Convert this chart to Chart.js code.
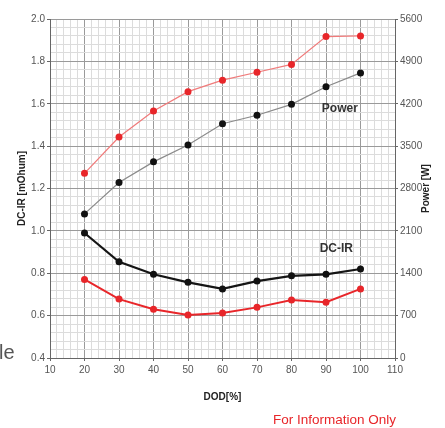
<!DOCTYPE html>
<html>
<head>
<meta charset="utf-8">
<script src="https://cdn.jsdelivr.net/npm/chart.js@4"></script>
<style>
  body { margin: 0; background: #fff; }
  #wrap { position: relative; width: 445px; height: 428px; overflow: hidden; }
  #side { position: absolute; left: -1px; top: 341px; font: 20px "Liberation Sans", Arial, sans-serif; color: #555; }
  #note { position: absolute; left: 273px; top: 412px; font: 13.5px "Liberation Sans", Arial, sans-serif; color: #e8262a; }
</style>
</head>
<body>
<div id="wrap">
  <canvas id="chart" width="445" height="428"></canvas>
  <div id="side">le</div>
  <div id="note">For Information Only</div>
</div>
<script>
const dod = [20, 30, 40, 50, 60, 70, 80, 90, 100];

// DC-IR [mOhum], left axis
const dcirBlack = [0.99, 0.854, 0.795, 0.757, 0.726, 0.763, 0.788, 0.795, 0.82];
const dcirRed = [0.771, 0.678, 0.630, 0.603, 0.612, 0.639, 0.674, 0.663, 0.726];

// Power [W], right axis
const powerBlack = [2380, 2900, 3240, 3520, 3870, 4010, 4190, 4480, 4710];
const powerRed = [3050, 3650, 4080, 4400, 4590, 4720, 4850, 5310, 5320];

const curveLabels = [
    { text: 'Power', x: 94, y: 1.575 },
    { text: 'DC-IR', x: 93, y: 0.915 }
];

const tickFont = { family: '"Liberation Sans", Arial, sans-serif', size: 10 };
const titleFont = { family: '"Liberation Sans", Arial, sans-serif', size: 10, weight: 'bold' };

function points(values) {
    return values.map((v, i) => ({ x: dod[i], y: v }));
}

function isMajor(v, step) {
    let r = v / step;
    return Math.abs(r - Math.round(r)) < 1e-6;
}

const textPlugin = {
    id: 'texts',
    afterDatasetsDraw(chart) {
        const ctx = chart.ctx;
        const xs = chart.scales.x;
        const ys = chart.scales.y;
        ctx.save();
        ctx.fillStyle = '#333';
        ctx.font = 'bold 12px "Liberation Sans", Arial, sans-serif';
        ctx.textAlign = 'center';
        ctx.textBaseline = 'middle';
        curveLabels.forEach(l => {
            ctx.fillText(l.text, xs.getPixelForValue(l.x), ys.getPixelForValue(l.y));
        });

        // right axis title, reading bottom to top
        const area = chart.chartArea;
        ctx.translate(426, (area.top + area.bottom) / 2);
        ctx.rotate(-Math.PI / 2);
        ctx.font = 'bold 10px "Liberation Sans", Arial, sans-serif';
        ctx.fillStyle = '#222';
        ctx.fillText('Power [W]', 0, 0);
        ctx.restore();
    }
};

function series(label, data, axis, color, width, pointColor) {
    return {
        label: label,
        data: points(data),
        yAxisID: axis,
        borderColor: color,
        borderWidth: width,
        pointRadius: 3.5,
        pointBackgroundColor: pointColor,
        pointBorderColor: pointColor,
        pointBorderWidth: 0,
        tension: 0
    };
}

new Chart(document.getElementById('chart'), {
    type: 'line',
    data: {
        datasets: [
            series('Power black', powerBlack, 'y1', '#8a8a8a', 1.2, '#111'),
            series('Power red', powerRed, 'y1', '#f07a7a', 1.2, '#e8262a'),
            series('DC-IR black', dcirBlack, 'y', '#151515', 2.2, '#111'),
            series('DC-IR red', dcirRed, 'y', '#e8262a', 2, '#e8262a')
        ]
    },
    options: {
        responsive: false,
        animation: false,
        layout: { padding: { top: 19 } },
        plugins: {
            legend: { display: false },
            tooltip: { enabled: false }
        },
        scales: {
            x: {
                type: 'linear',
                min: 10,
                max: 110,
                afterFit: s => { s.height = 70; },
                border: { color: '#666', width: 1 },
                grid: {
                    color: c => isMajor(c.tick.value, 10) ? '#9a9a9a' : '#dcdcdc',
                    tickColor: c => isMajor(c.tick.value, 10) ? '#666' : 'rgba(0,0,0,0)',
                    tickLength: 3
                },
                ticks: {
                    stepSize: 2,
                    autoSkip: false,
                    maxTicksLimit: 200,
                    maxRotation: 0,
                    padding: 3,
                    color: '#555',
                    font: tickFont,
                    callback: v => isMajor(v, 10) ? v : ''
                },
                title: {
                    display: true,
                    text: 'DOD[%]',
                    color: '#222',
                    font: titleFont,
                    padding: { top: 0, bottom: 25 }
                }
            },
            y: {
                position: 'left',
                min: 0.4,
                max: 2.0,
                afterFit: s => { s.width = 50; },
                border: { color: '#666', width: 1 },
                grid: {
                    color: c => isMajor(c.tick.value, 0.2) ? '#9a9a9a' : '#dcdcdc',
                    tickColor: c => isMajor(c.tick.value, 0.2) ? '#666' : 'rgba(0,0,0,0)',
                    tickLength: 3
                },
                ticks: {
                    stepSize: 0.04,
                    autoSkip: false,
                    maxTicksLimit: 200,
                    padding: 2,
                    color: '#555',
                    font: tickFont,
                    callback: v => isMajor(v, 0.2) ? v.toFixed(1) : ''
                },
                title: {
                    display: true,
                    text: 'DC-IR [mOhum]',
                    color: '#222',
                    font: titleFont,
                    padding: { top: 16, bottom: 0 }
                }
            },
            y1: {
                position: 'right',
                min: 0,
                max: 5600,
                afterFit: s => { s.width = 50; },
                border: { color: '#666', width: 1 },
                grid: {
                    drawOnChartArea: false,
                    color: '#666',
                    tickLength: 3
                },
                ticks: {
                    stepSize: 700,
                    padding: 2,
                    color: '#555',
                    font: tickFont,
                    callback: v => String(v)
                }
            }
        }
    },
    plugins: [textPlugin]
});
</script>
</body>
</html>
